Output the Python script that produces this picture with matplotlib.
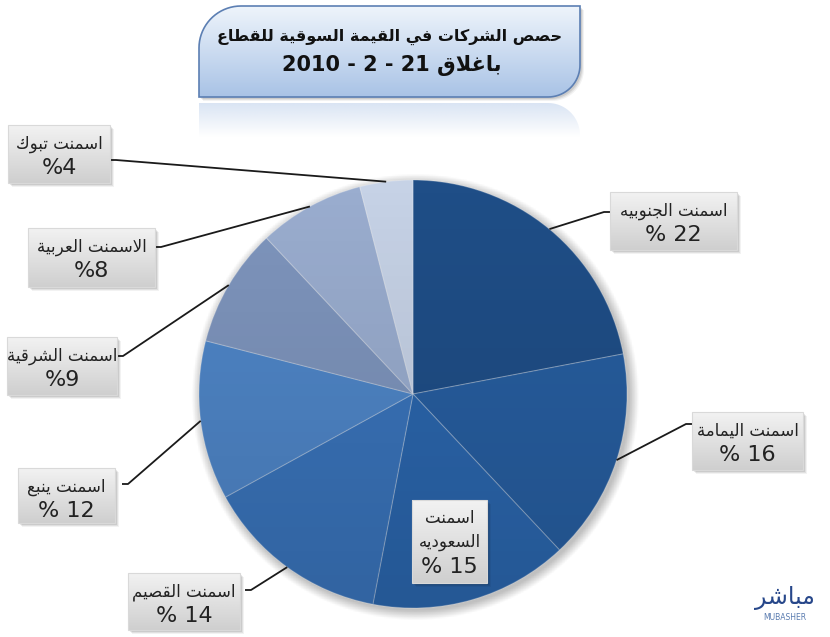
import numpy as np
import matplotlib
matplotlib.use('Agg')
import matplotlib.pyplot as plt
from matplotlib.patches import FancyBboxPatch, Polygon, Circle

# --- data -------------------------------------------------------------
names = ['اسمنت الجنوبيه', 'اسمنت اليمامة', 'اسمنت السعوديه', 'اسمنت القصيم',
         'اسمنت ينبع', 'اسمنت الشرقية', 'الاسمنت العربية', 'اسمنت تبوك']
shares = [22, 16, 15, 14, 12, 9, 8, 4]
colors = ['#1f4e87', '#275ea0', '#2b66ad', '#3a74bb',
          '#4f86c8', '#7e95bd', '#9aadcf', '#c6d2e6']
title_1 = 'حصص الشركات في القيمة السوقية للقطاع'
title_2 = 'باغلاق 21 - 2 - 2010'

W, H = 830, 637

# --- tiny arabic shaper (matplotlib does no shaping / bidi) ------------
_seq = [('ء', 1), ('آ', 2), ('أ', 2), ('ؤ', 2), ('إ', 2), ('ئ', 4), ('ا', 2),
        ('ب', 4), ('ة', 2), ('ت', 4), ('ث', 4), ('ج', 4), ('ح', 4), ('خ', 4),
        ('د', 2), ('ذ', 2), ('ر', 2), ('ز', 2), ('س', 4), ('ش', 4), ('ص', 4),
        ('ض', 4), ('ط', 4), ('ظ', 4), ('ع', 4), ('غ', 4), ('ف', 4), ('ق', 4),
        ('ك', 4), ('ل', 4), ('م', 4), ('ن', 4), ('ه', 4), ('و', 2), ('ى', 2),
        ('ي', 4)]
FORMS = {}
_code = 0xFE80
for _c, _n in _seq:
    f = [_code + i for i in range(_n)] + [None] * (4 - _n)
    FORMS[_c] = f
    _code += _n
LAM_ALEF = {'آ': (0xFEF5, 0xFEF6), 'أ': (0xFEF7, 0xFEF8),
            'إ': (0xFEF9, 0xFEFA), 'ا': (0xFEFB, 0xFEFC)}


def shape(word):
    items = []
    i = 0
    while i < len(word):
        c = word[i]
        if c == 'ل' and i + 1 < len(word) and word[i + 1] in LAM_ALEF:
            items.append(('LA', word[i + 1]))
            i += 2
        else:
            items.append(('C', c))
            i += 1
    out = []
    for k, (kind, c) in enumerate(items):
        prev = items[k - 1] if k > 0 else None
        nxt = items[k + 1] if k + 1 < len(items) else None
        prev_joins = (prev is not None and prev[0] == 'C' and prev[1] in FORMS
                      and FORMS[prev[1]][2] is not None)
        if kind == 'LA':
            out.append(chr(LAM_ALEF[c][1 if prev_joins else 0]))
            continue
        if c not in FORMS:
            out.append(c)
            continue
        f = FORMS[c]
        prev_joins = prev_joins and f[1] is not None
        next_joins = (nxt is not None and (nxt[0] == 'LA' or nxt[1] in FORMS)
                      and f[2] is not None)
        if prev_joins and next_joins:
            code = f[3]
        elif prev_joins:
            code = f[1]
        elif next_joins:
            code = f[2]
        else:
            code = f[0]
        out.append(chr(code))
    return ''.join(out)


def ar(text):
    words = text.split(' ')
    vis = [shape(w)[::-1] if any(ch in FORMS for ch in w) else w for w in words]
    return ' '.join(reversed(vis))


def Y(py):
    return H - py


# --- figure -----------------------------------------------------------
fig = plt.figure(figsize=(W / 100, H / 100), dpi=100)
ax = fig.add_axes([0, 0, 1, 1])

cx, cy, R = 413, 394, 214

# soft shadow under the pie
n = 300
gx = np.linspace(cx - R - 30, cx + R + 30, n)
gy = np.linspace(Y(cy) - R - 30, Y(cy) + R + 30, n)
XX, YY = np.meshgrid(gx, gy)
dist = np.hypot(XX - cx - 2, YY - Y(cy) + 3)
sh = np.clip(1 - (dist - R) / 10, 0, 1) * 0.25
shadow = np.zeros((n, n, 4))
shadow[..., 3] = sh
ax.imshow(shadow, extent=(gx[0], gx[-1], gy[0], gy[-1]), origin='lower', zorder=1)

wedges, _ = ax.pie(shares, colors=colors, startangle=90, counterclock=False,
                   center=(cx, Y(cy)), radius=R,
                   wedgeprops=dict(edgecolor=(1, 1, 1, 0.25), linewidth=0.8))
for w in wedges:
    w.set_zorder(2)

# vertical shading over the pie
grad = np.zeros((200, 2, 4))
tt = np.linspace(0, 1, 200)[:, None]
grad[..., :3] = 0
grad[..., 3] = 0.14 * (1 - tt)
clip = Circle((cx, Y(cy)), R, transform=ax.transData)
im = ax.imshow(grad, extent=(cx - R, cx + R, Y(cy) - R, Y(cy) + R), origin='lower',
               zorder=3, aspect='auto')
im.set_clip_path(clip)


def gradient_box(x0, y0, x1, y1, top, bottom, z=5, shadow=True):
    if shadow:
        for k, a in [(4, 0.05), (3, 0.07), (2, 0.09)]:
            ax.add_patch(FancyBboxPatch((x0 + k, Y(y1) - k), x1 - x0, y1 - y0,
                                        boxstyle='square,pad=0', lw=0,
                                        fc=(0, 0, 0, a), zorder=z - 1))
    p = FancyBboxPatch((x0, Y(y1)), x1 - x0, y1 - y0, boxstyle='square,pad=0',
                       fc='none', ec='#d9d9d9', lw=0.8, zorder=z + 1)
    ax.add_patch(p)
    c0 = np.array(matplotlib.colors.to_rgb(top))
    c1 = np.array(matplotlib.colors.to_rgb(bottom))
    t = np.linspace(0, 1, 64)[:, None]
    img = (c0 * (1 - t) + c1 * t)[:, None, :]
    im = ax.imshow(img, extent=(x0, x1, Y(y1), Y(y0)), origin='upper',
                   aspect='auto', zorder=z)
    im.set_clip_path(p)


# label boxes (pixel layout) and where leader lines attach
boxes = [(610, 192, 737, 250), (692, 412, 803, 470), (412, 500, 487, 583),
         (128, 573, 240, 630), (18, 468, 115, 523), (7, 337, 117, 395),
         (28, 228, 155, 287), (8, 125, 110, 183)]
attach = [(610, 212), (692, 424), None, (245, 590), (122, 484),
          (117, 356), (155, 247), (110, 160)]

for i, (w, name, v) in enumerate(zip(wedges, names, shares)):
    x0, y0, x1, y1 = boxes[i]
    gradient_box(x0, y0, x1, y1, '#f2f2f2', '#cfcfcf', z=6)
    pct = f'% {v}' if v >= 10 else f'%{v}'
    xm = (x0 + x1) / 2
    if attach[i] is None:
        parts = name.split(' ')
        ax.text(xm, Y(y0 + 18), ar(parts[0]), ha='center', va='center',
                fontsize=12, family='DejaVu Sans', color='#222222', zorder=8)
        ax.text(xm, Y(y0 + 42), ar(parts[1]), ha='center', va='center',
                fontsize=12, family='DejaVu Sans', color='#222222', zorder=8)
        ax.text(xm, Y(y0 + 67), pct, ha='center', va='center',
                fontsize=16, family='DejaVu Sans', color='#222222', zorder=8)
        continue
    ax.text(xm, Y(y0 + 19), ar(name), ha='center', va='center', fontsize=12,
            family='DejaVu Sans', color='#222222', zorder=8, clip_on=True)
    ax.text(xm, Y(y0 + 43), pct, ha='center', va='center', fontsize=16,
            family='DejaVu Sans', color='#222222', zorder=8)
    # leader line from wedge rim to the box
    mid = np.deg2rad((w.theta1 + w.theta2) / 2)
    ex, ey = cx + R * np.cos(mid), Y(cy) + R * np.sin(mid)
    bx, by = attach[i]
    kx = bx + (6 if bx < cx else -6)
    ax.plot([ex, kx, bx], [ey, Y(by), Y(by)], color='#1a1a1a', lw=1.3,
            zorder=4, solid_capstyle='butt')

# title box with rounded top-left / bottom-right corners
tx0, ty0, tx1, ty1 = 199, 6, 580, 97
r1, r2 = 42, 32
a1 = np.linspace(np.pi, np.pi / 2, 20)
a2 = np.linspace(0, -np.pi / 2, 20)
pts = [(tx0 + r1 + r1 * np.cos(a), Y(ty0 + r1) + r1 * np.sin(a)) for a in a1]
pts += [(tx1, Y(ty0))]
pts += [(tx1 - r2 + r2 * np.cos(a), Y(ty1 - r2) + r2 * np.sin(a)) for a in a2]
pts += [(tx0, Y(ty1))]
for k, a in [(4, 0.05), (3, 0.07), (2, 0.09)]:
    ax.add_patch(Polygon([(x + k, y - k) for x, y in pts], closed=True,
                         fc=(0, 0, 0, a), lw=0, zorder=9))
tpoly = Polygon(pts, closed=True, fc='none', ec='#5c7fb3', lw=1.2, zorder=11)
ax.add_patch(tpoly)
t = np.linspace(0, 1, 64)[:, None]
c0 = np.array(matplotlib.colors.to_rgb('#eef4fb'))
c1 = np.array(matplotlib.colors.to_rgb('#a9c3e6'))
img = (c0 * (1 - t) + c1 * t)[:, None, :]
im = ax.imshow(img, extent=(tx0, tx1, Y(ty1), Y(ty0)), origin='upper',
               aspect='auto', zorder=10)
im.set_clip_path(tpoly)

# faded reflection of the title box
refl = np.zeros((64, 2, 4))
refl[..., :3] = matplotlib.colors.to_rgb('#b9cdea')
refl[..., 3] = np.linspace(0.55, 0, 64)[:, None]
rpoly = Polygon([(x, 2 * Y(ty1) - y - 6) for x, y in pts], closed=True,
                fc='none', lw=0, zorder=9)
ax.add_patch(rpoly)
im = ax.imshow(refl, extent=(tx0, tx1, Y(ty1 + 40), Y(ty1 + 5)), origin='upper',
               aspect='auto', zorder=9)
im.set_clip_path(rpoly)

ax.text(390, Y(37), ar(title_1), ha='center', va='center', fontsize=11.5,
        fontweight='bold', family='DejaVu Sans', color='#111111', zorder=12)
ax.text(392, Y(65), ar(title_2), ha='center', va='center', fontsize=15,
        fontweight='bold', family='DejaVu Sans', color='#111111', zorder=12)

# logo
ax.text(785, Y(598), ar('مباشر'), ha='center', va='center', fontsize=17,
        family='DejaVu Sans', color='#27478a', zorder=12)
ax.text(785, Y(617), 'MUBASHER', ha='center', va='center', fontsize=5.5,
        family='DejaVu Sans', color='#5a7cb0', zorder=12)

ax.set_xlim(0, W)
ax.set_ylim(0, H)
ax.set_aspect('auto')
ax.axis('off')
fig.savefig('out.png', dpi=100, facecolor='white')
